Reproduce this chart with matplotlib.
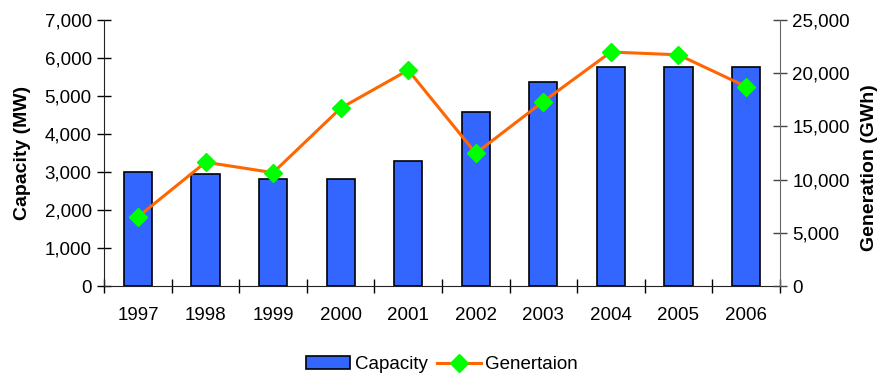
import numpy as np
import matplotlib.pyplot as plt

plt.rcParams['font.family'] = ['Liberation Sans', 'DejaVu Sans']

# Installed capacity and annual generation
years = ['1997', '1998', '1999', '2000', '2001', '2002', '2003', '2004', '2005', '2006']
capacity = [3005, 2940, 2825, 2825, 3300, 4580, 5370, 5765, 5765, 5765]      # MW
generation = [6520, 11640, 10660, 16720, 20290, 12480, 17340, 21990, 21730, 18750]  # GWh

fig = plt.figure(figsize=(8.84, 3.77), dpi=100)
ax = fig.add_axes([0.118, 0.241, 0.764, 0.706])
ax2 = ax.twinx()

x = np.arange(len(years))
bars = ax.bar(x, capacity, width=0.42, color='#3366ff', edgecolor='black',
              linewidth=1.2, label='Capacity', zorder=2)
line, = ax2.plot(x, generation, color='#ff6600', linewidth=2.2, marker='D',
                 markersize=9, markerfacecolor='#00ff00', markeredgecolor='#00ff00',
                 label='Genertaion', zorder=3)
ax.set_zorder(1)
ax2.set_zorder(2)

ax.set_xlim(-0.5, len(years) - 0.5)
ax.set_ylim(0, 7000)
ax2.set_ylim(0, 25000)
ax.set_yticks(range(0, 7001, 1000))
ax2.set_yticks(range(0, 25001, 5000))
ax.yaxis.set_major_formatter(plt.FuncFormatter(lambda v, p: f'{int(v):,}'))
ax2.yaxis.set_major_formatter(plt.FuncFormatter(lambda v, p: f'{int(v):,}'))

# year labels centred under bars, ticks between categories
ax.set_xticks(x)
ax.set_xticklabels(years)
ax.set_xticks(np.arange(-0.5, len(years)), minor=True)
ax.tick_params(axis='x', which='major', length=0, labelsize=13.5, pad=15)
ax.tick_params(axis='x', which='minor', direction='inout', length=10, width=1)
ax.tick_params(axis='y', direction='inout', length=10, width=1, labelsize=13.5, pad=4)
ax2.tick_params(axis='y', direction='inout', length=10, width=1, labelsize=13.5,
                pad=4, color='#444444')

for s in ['top', 'right']:
    ax.spines[s].set_visible(False)
for s in ['top', 'left', 'bottom']:
    ax2.spines[s].set_visible(False)
ax2.spines['right'].set_color('#666666')
ax.spines['left'].set_color('#222222')
ax.spines['bottom'].set_color('#222222')

ax.set_ylabel('Capacity (MW)', fontsize=14, fontweight='bold', labelpad=10)
ax2.set_ylabel('Generation (GWh)', fontsize=14, fontweight='bold')
ax2.yaxis.set_label_coords(1.12, 0.444)

fig.legend([bars, line], ['Capacity', 'Genertaion'], loc='center',
           bbox_to_anchor=(0.5, 0.032), ncol=2, frameon=False, fontsize=13.5,
           handlelength=2.35, handletextpad=0.25, columnspacing=0.5)

fig.savefig('out.png', dpi=100)
